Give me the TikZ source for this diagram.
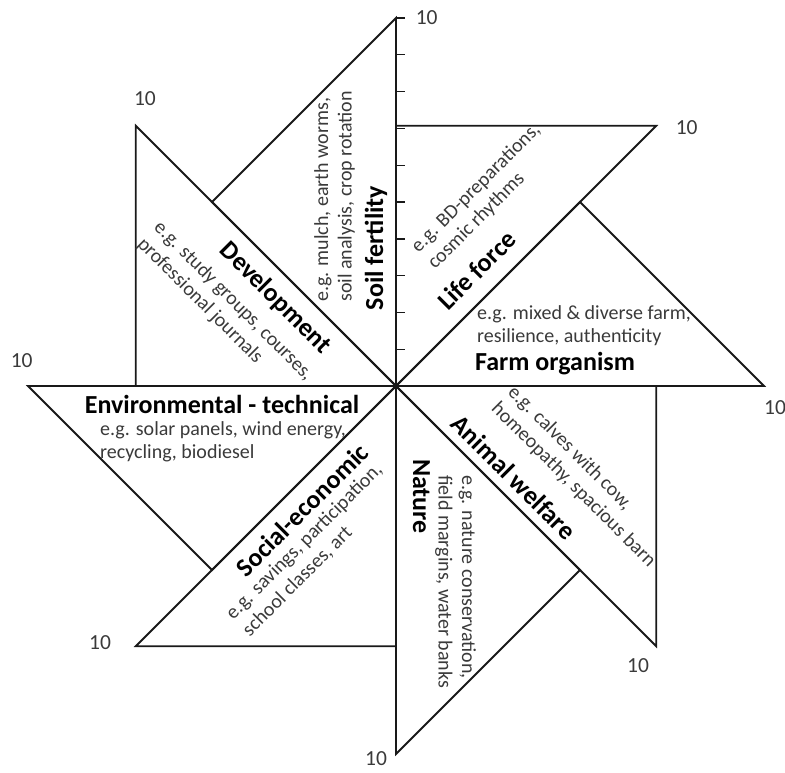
\documentclass[tikz,border=0pt]{standalone}
\usepackage{fontspec}
\setmainfont{Carlito}
\usetikzlibrary{calc}
\definecolor{extext}{HTML}{3A3A3A}
\tikzset{
  tri/.style={draw=black!90, line width=1.8pt, line join=miter},
  title/.style={font=\fontsize{26}{30}\selectfont\bfseries, inner sep=0pt, text=black},
  example/.style={font=\fontsize{20}{23.5}\selectfont, inner sep=0pt, align=left, anchor=west, text=extext},
  tenlabel/.style={font=\fontsize{21.5}{24}\selectfont, inner sep=0pt, text=extext},
  tick/.style={draw=black!90, line width=1.4pt}
}
\begin{document}
\begin{tikzpicture}[x=1pt,y=1pt]
\useasboundingbox (-396,-386) rectangle (389,386);
\def\R{368}
\def\r{260.2}
\coordinate (C) at (0,0);
% outer points (value 10) on the eight axes
\coordinate (P1) at (90:\R);
\coordinate (P2) at (45:\R);
\coordinate (P3) at (0:\R);
\coordinate (P4) at (-45:\R);
\coordinate (P5) at (-90:\R);
\coordinate (P6) at (-135:\R);
\coordinate (P7) at (180:\R);
\coordinate (P8) at (135:\R);
% right-angle vertices
\coordinate (Q1) at (135:\r);
\coordinate (Q2) at (90:\r);
\coordinate (Q3) at (45:\r);
\coordinate (Q4) at (0:\r);
\coordinate (Q5) at (-45:\r);
\coordinate (Q6) at (-90:\r);
\coordinate (Q7) at (-135:\r);
\coordinate (Q8) at (180:\r);
% triangles
\draw[tri] (C) -- (P1) -- (Q1) -- cycle;
\draw[tri] (C) -- (P2) -- (Q2) -- cycle;
\draw[tri] (C) -- (P3) -- (Q3) -- cycle;
\draw[tri] (C) -- (P4) -- (Q4) -- cycle;
\draw[tri] (C) -- (P5) -- (Q5) -- cycle;
\draw[tri] (C) -- (P6) -- (Q6) -- cycle;
\draw[tri] (C) -- (P7) -- (Q7) -- cycle;
\draw[tri] (C) -- (P8) -- (Q8) -- cycle;
% ticks on the upper axis
\foreach \k in {1,...,10} {
  \draw[tick] (0,\k*36.8) -- ++(9,0);
}
% value labels
\node[tenlabel] (t1) at (30.7,368) {10};
\node[tenlabel] (t2) at (290.7,258.5) {10};
\node[tenlabel] (t3) at (379,-22) {10};
\node[tenlabel] (t4) at (242,-280) {10};
\node[tenlabel] (t5) at (-20,-373) {10};
\node[tenlabel] (t6) at (-296,-257) {10};
\node[tenlabel] (t7) at (-374.3,25) {10};
\node[tenlabel] (t8) at (-251,287) {10};
% Soil fertility
\node[title, rotate=90] (soilT) at (-20,138) {Soil fertility};
\node[example, rotate=90] (soilE) at (-61.5,84) {e.g. mulch, earth worms,\\soil analysis, crop rotation};
% Life force
\node[title, rotate=45] (lifeT) at (80.7,116) {Life force};
\node[example, rotate=45] (lifeE) at (27,128) {e.g. BD-preparations,\\cosmic rhythms};
% Farm organism
\node[title] (farmT) at (159,22) {Farm organism};
\node[example] (farmE) at (81,60.5) {e.g. mixed \& diverse farm,\\resilience, authenticity};
% Animal welfare
\node[title, rotate=-45] (animT) at (118,-91) {Animal welfare};
\node[example, rotate=-45] (animE) at (106.5,-11.5) {e.g. calves with cow,\\homeopathy, spacious barn};
% Nature
\node[title, rotate=-90] (natT) at (25.5,-110.5) {Nature};
\node[example, rotate=-90] (natE) at (59.5,-89) {e.g. nature conservation,\\field margins, water banks};
% Social-economic
\node[title, rotate=45] (socT) at (-94,-124) {Social-economic};
\node[example, rotate=45] (socE) at (-158.5,-239) {e.g. savings, participation,\\school classes, art};
% Environmental - technical
\node[title] (envT) at (-174,-18) {Environmental - technical};
\node[example] (envE) at (-296,-56) {e.g. solar panels, wind energy,\\recycling, biodiesel};
% Development
\node[title, rotate=-45] (devT) at (-121,88) {Development};
\node[example, rotate=-45] (devE) at (-247.5,153) {e.g. study groups, courses,\\professional journals};
\end{tikzpicture}
\end{document}
